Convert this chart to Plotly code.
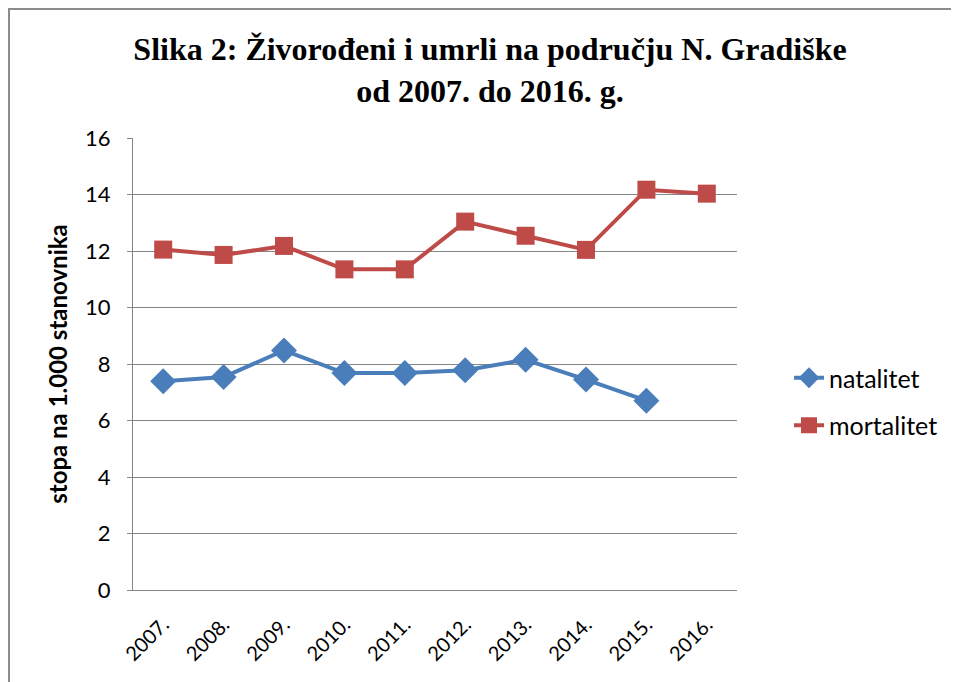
import plotly.graph_objects as go

years = ["2007.", "2008.", "2009.", "2010.", "2011.", "2012.", "2013.", "2014.", "2015.", "2016."]
natalitet = [7.39, 7.54, 8.48, 7.68, 7.68, 7.78, 8.15, 7.45, 6.70, None]
mortalitet = [12.05, 11.86, 12.18, 11.35, 11.35, 13.04, 12.54, 12.04, 14.17, 14.03]
y_ticks = [0, 2, 4, 6, 8, 10, 12, 14, 16]

W, H = 959, 682
OFF = 8  # page body margin
# plot area in screen pixels
L, R, T, B = 133 - OFF, 737 - OFF, 138 - OFF, 590 - OFF
pw, ph = R - L, B - T

fig = go.Figure()
fig.add_trace(go.Scatter(
    x=years, y=natalitet, name="natalitet", mode="lines+markers",
    line=dict(color="#4A7EBB", width=4),
    marker=dict(symbol="diamond", size=20, color="#4A7EBB"),
    legendgroup="a",
))
fig.add_trace(go.Scatter(
    x=years, y=mortalitet, name="mortalitet", mode="lines+markers",
    line=dict(color="#BE4B48", width=4),
    marker=dict(symbol="square", size=18, color="#BE4B48"),
    legendgroup="b",
))

fig.add_shape(type="rect", xref="paper", yref="paper",
              x0=(1 - L) / pw, x1=(W + 50 - L) / pw,
              y0=(B - (H + 50)) / ph, y1=(B - 1) / ph,
              line=dict(color="#8C8C8C", width=2), fillcolor="rgba(0,0,0,0)", layer="below")

fig.update_layout(
    width=W, height=H,
    margin=dict(l=L, r=W - R, t=T, b=H - B, pad=0),
    paper_bgcolor="white", plot_bgcolor="white",
    title=dict(
        text="Slika 2: Živorođeni i umrli na području N. Gradiške<br>od 2007. do 2016. g.",
        font=dict(family="Liberation Serif", size=32, color="black", weight="bold"),
        x=(490 - OFF) / W, xanchor="center", xref="container",
        y=1 - 52 / H, yanchor="top", yref="container",
    ),
    font=dict(family="Lato", color="black"),
    showlegend=True,
    legend=dict(
        x=(789 - 133) / pw, xanchor="left",
        y=(590 - 401.5) / ph, yanchor="middle",
        font=dict(family="Lato", size=25, color="black"),
        tracegroupgap=12, bgcolor="rgba(0,0,0,0)",
    ),
    xaxis=dict(
        type="category", range=[-0.5, 9.5],
        tickangle=-45, tickfont=dict(family="Lato", size=20, color="black"),
        showgrid=False, showline=True, linecolor="#868686", linewidth=1,
        ticks="outside", ticklen=14, tickcolor="rgba(0,0,0,0)",
    ),
    yaxis=dict(
        range=[0, 16], tickvals=y_ticks,
        tickfont=dict(family="Lato", size=22, color="black"),
        showgrid=True, gridcolor="#868686", gridwidth=1,
        showline=True, linecolor="#868686", linewidth=1,
        ticks="outside", ticklen=5, tickcolor="#868686",
        ticklabelstandoff=12,
        zeroline=False,
        title=dict(text="<b>stopa na 1.000 stanovnika</b>",
                   font=dict(family="Lato", size=24, color="black"), standoff=10),
    ),
)

fig.write_html("out.html")
